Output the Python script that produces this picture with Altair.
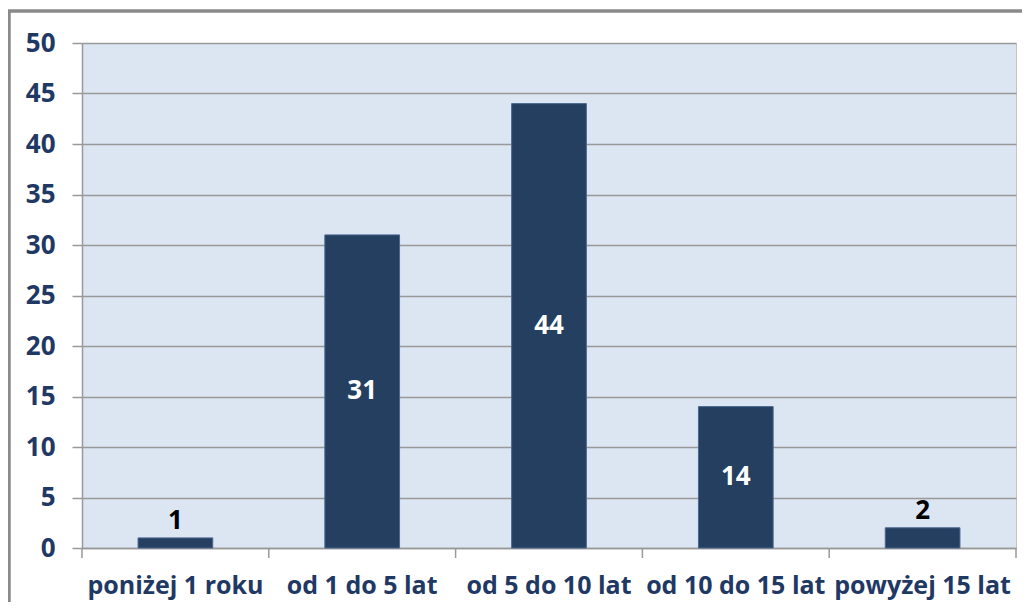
import altair as alt
import pandas as pd

categories = ["poniżej 1 roku", "od 1 do 5 lat", "od 5 do 10 lat", "od 10 do 15 lat", "powyżej 15 lat"]
values = [1, 31, 44, 14, 2]
y_ticks = [0, 5, 10, 15, 20, 25, 30, 35, 40, 45, 50]

df = pd.DataFrame({"cat": categories, "val": values})

W, H = 934, 505
FONT = "Open Sans"
NAVY = "#243F60"
LABEL = "#1F3864"
GRID = "#999999"
FRAME = "#8A8A8A"

xscale = alt.Scale(domain=categories, paddingInner=0, paddingOuter=0)
yscale = alt.Scale(domain=[0, 50], nice=False)

xaxis = alt.Axis(title=None, labelAngle=0, ticks=False, grid=False, domain=True,
                 domainColor=GRID, domainWidth=1.5, labelFont=FONT, labelFontSize=25,
                 labelFontWeight="bold", labelColor=LABEL, labelPadding=25)
yaxis = alt.Axis(title=None, values=y_ticks, tickSize=10, tickColor=GRID, tickWidth=1.5,
                 domain=True, domainColor=GRID, domainWidth=1.5, grid=True, gridColor=GRID,
                 gridWidth=1.5, labelFont=FONT, labelFontSize=26, labelFontWeight="bold",
                 labelColor=LABEL, labelPadding=17)

base = alt.Chart(df)

bars = base.mark_bar(width=alt.RelativeBandSize(0.4), color=NAVY, stroke="#4A6790",
                     strokeWidth=1).encode(
    x=alt.X("cat:N", scale=xscale, axis=xaxis),
    y=alt.Y("val:Q", scale=yscale, axis=yaxis),
)

inside = base.transform_filter("datum.val >= 5").transform_calculate(
    mid="datum.val / 2"
).mark_text(color="white", font=FONT, fontSize=26, fontWeight="bold", baseline="middle").encode(
    x=alt.X("cat:N", scale=xscale, axis=xaxis),
    y=alt.Y("mid:Q", scale=yscale, axis=yaxis),
    text="val:Q",
)

outside = base.transform_filter("datum.val < 5").mark_text(
    color="black", font=FONT, fontSize=26, fontWeight="bold", baseline="alphabetic", dy=-9
).encode(
    x=alt.X("cat:N", scale=xscale, axis=xaxis),
    y=alt.Y("val:Q", scale=yscale, axis=yaxis),
    text="val:Q",
)

ticks_start = base.mark_rule(color=GRID, strokeWidth=1.5).encode(
    x=alt.X("cat:N", scale=xscale, axis=xaxis, bandPosition=0),
    y=alt.value(H),
    y2=alt.value(H + 10),
)
ticks_end = base.transform_filter(alt.datum.cat == categories[-1]).mark_rule(
    color=GRID, strokeWidth=1.5
).encode(
    x=alt.X("cat:N", scale=xscale, axis=xaxis, bandPosition=1),
    y=alt.value(H),
    y2=alt.value(H + 10),
)

frame_top = alt.Chart(df).mark_rule(color=FRAME, strokeWidth=2.5).encode(
    x=alt.value(-74), x2=alt.value(W + 20), y=alt.value(-32)
)
frame_left = alt.Chart(df).mark_rule(color=FRAME, strokeWidth=2.5).encode(
    x=alt.value(-73), y=alt.value(-33), y2=alt.value(H + 70)
)

chart = alt.layer(bars, inside, outside, ticks_start, ticks_end, frame_top, frame_left).properties(
    width=W,
    height=H,
    padding={"left": 74, "top": 35, "right": 6, "bottom": 54},
    autosize=alt.AutoSizeParams(type="none"),
    background="white",
).configure_view(fill="#DCE6F2", stroke="#C4C4C4", strokeWidth=1)

chart.save("out.html", embed_options={"renderer": "svg", "actions": False})
